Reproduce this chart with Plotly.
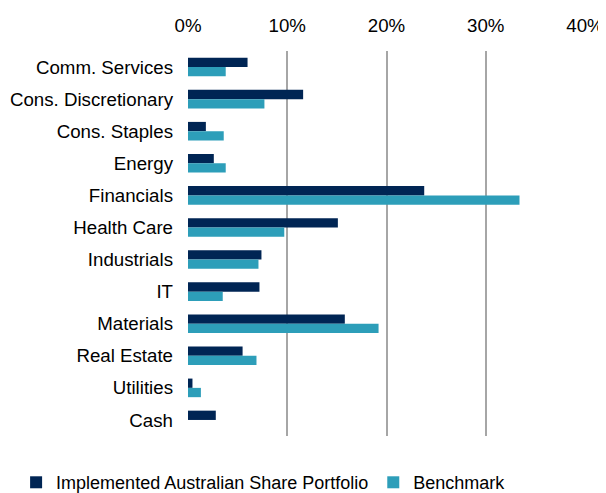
import plotly.graph_objects as go

categories = ["Comm. Services", "Cons. Discretionary", "Cons. Staples", "Energy",
              "Financials", "Health Care", "Industrials", "IT", "Materials",
              "Real Estate", "Utilities", "Cash"]
portfolio = [6.0, 11.6, 1.8, 2.6, 23.8, 15.1, 7.4, 7.2, 15.8, 5.5, 0.45, 2.8]
benchmark = [3.8, 7.7, 3.6, 3.8, 33.4, 9.7, 7.1, 3.5, 19.2, 6.9, 1.3, 0.0]
tick_vals = [0, 10, 20, 30, 40]
tick_text = ["0%", "10%", "20%", "30%", "40%"]

font_family = "Liberation Sans, Arial, sans-serif"

fig = go.Figure()
fig.add_trace(go.Bar(y=categories, x=portfolio, orientation="h",
                     name="Implemented Australian Share Portfolio",
                     marker=dict(color="#002554", line=dict(width=0))))
fig.add_trace(go.Bar(y=categories, x=benchmark, orientation="h",
                     name="Benchmark",
                     marker=dict(color="#2d9eb9", line=dict(width=0))))

# page body has an 8px margin, so the figure is sized 8px smaller
fig.update_layout(
    template="none",
    width=598, height=485,
    margin=dict(l=180, r=21, t=43, b=57, autoexpand=False),
    paper_bgcolor="white", plot_bgcolor="white",
    font=dict(family=font_family, size=18, color="#000000"),
    barmode="group", bargap=0.42, bargroupgap=0,
    showlegend=True,
    legend=dict(orientation="h", xref="paper", yref="paper",
                x=-0.433, xanchor="left", y=-0.121, yanchor="middle",
                font=dict(size=18), traceorder="normal",
                bgcolor="rgba(0,0,0,0)"),
    xaxis=dict(side="top", range=[0, 40], tickvals=tick_vals, ticktext=tick_text,
               showgrid=True, gridcolor="#a6a6a6", gridwidth=2,
               zeroline=False, showline=False, ticks="", automargin=False,
               ticklabelstandoff=14, tickfont=dict(size=18.7)),
    yaxis=dict(autorange="reversed", showgrid=False, zeroline=False,
               showline=False, ticks="", automargin=False,
               ticklabelstandoff=14, tickfont=dict(size=18.7)),
)

fig.write_html("out.html")
